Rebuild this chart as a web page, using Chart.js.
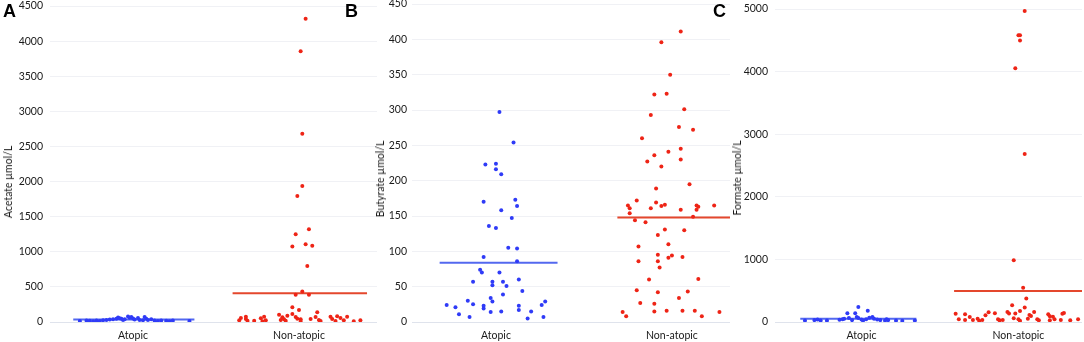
<!DOCTYPE html>
<html>
<head>
<meta charset="utf-8">
<script src="https://cdn.jsdelivr.net/npm/chart.js@4"></script>
<style>
  body { margin: 0; background: #fff; width: 1084px; height: 342px; overflow: hidden; position: relative; font-family: Lato, sans-serif; }
  canvas { position: absolute; top: 0; }
  .letter { position: absolute; top: 1px; font: bold 18px "Liberation Sans", Arial, sans-serif; color: #000; }
  .ytitle { position: absolute; font-size: 10.5px; color: #1a1a1a; transform: translate(-50%, -50%) rotate(-90deg); white-space: nowrap; }
</style>
</head>
<body>
<canvas id="chartA" width="380" height="342" style="left:0"></canvas>
<canvas id="chartB" width="372" height="342" style="left:360px"></canvas>
<canvas id="chartC" width="364" height="342" style="left:720px"></canvas>

<div class="letter" style="left:3px">A</div>
<div class="letter" style="left:345px">B</div>
<div class="letter" style="left:713px">C</div>
<div class="ytitle" style="left:8px;top:182px">Acetate µmol/L</div>
<div class="ytitle" style="left:380px;top:179px">Butyrate µmol/L</div>
<div class="ytitle" style="left:737px;top:178px">Formate µmol/L</div>

<script>
/* ================================
   Data
================================ */
const groups = ["Atopic", "Non-atopic"];

// A - acetate
const acetateTicks = [0, 500, 1000, 1500, 2000, 2500, 3000, 3500, 4000, 4500];
const acetateMeans = [35, 410];
const acetateAtopic = [15, 20, 18, 12, 22, 15, 25, 30, 35, 40, 45, 65, 55, 48, 30, 40, 80, 60, 72, 50,
  35, 58, 30, 25, 70, 45, 30, 38, 20, 15, 22, 18, 12, 20, 15];
const acetateAtopicJitter = [-0.32, -0.28, -0.26, -0.24, -0.22, -0.20, -0.18, -0.16, -0.14, -0.12, -0.10, -0.09,
  -0.08, -0.07, -0.06, -0.05, -0.03, -0.02, -0.01, 0.00, 0.01, 0.03, 0.04, 0.06, 0.07, 0.08, 0.09, 0.11,
  0.13, 0.15, 0.17, 0.20, 0.22, 0.24, 0.34];
const acetateNonAtopic = [4320, 3856, 2681, 1937, 1795, 1322, 1250, 1108, 1075, 1085, 796, 436, 388, 388,
  209, 171, 138, 104, 90, 114, 67, 38, 28, 19, 71, 47, 38, 14, 43, 71, 14, 28,
  24, 57, 76, 43, 19, 19, 52, 10, 76, 24,
  76, 43, 14, 81, 57, 24, 76, 10, 24];
const acetateNonAtopicJitter = [0.04, 0.01, 0.02, 0.02, -0.01, 0.06, -0.02, 0.04, -0.04, 0.08, 0.05, 0.02, -0.02, 0.06,
  -0.04, 0.00, 0.11, -0.12, -0.07, -0.04, -0.10, -0.09, -0.11, -0.08, -0.02, -0.01, 0.01, 0.01, 0.07, 0.10, 0.13, 0.12,
  -0.36, -0.35, -0.32, -0.32, -0.31, -0.27, -0.23, -0.22, -0.21, -0.20,
  0.19, 0.20, 0.22, 0.23, 0.25, 0.27, 0.29, 0.33, 0.37];

// B - butyrate
const butyrateTicks = [0, 50, 100, 150, 200, 250, 300, 350, 400, 450];
const butyrateMeans = [84, 148];
const butyrateAtopic = [297, 254, 223, 224, 216, 209, 170, 173, 164, 158, 147, 136, 133, 105, 104, 92, 86, 74,
  70, 70, 57, 57, 52, 57, 51, 60, 44, 39, 34, 30, 29, 29, 25, 24, 21, 23, 19, 23, 24, 17, 11, 14, 15, 15, 7, 5, 7];
const butyrateAtopicJitter = [0.02, 0.10, -0.06, 0.00, 0.00, 0.03, -0.07, 0.11, 0.12, 0.03, 0.09, -0.04, 0.00, 0.07,
  0.12, -0.07, 0.12, -0.09, -0.08, 0.02, -0.13, -0.02, -0.02, 0.04, 0.06, 0.13, 0.15, 0.04, -0.03, -0.16, -0.02,
  0.28, -0.13, -0.28, -0.23, -0.07, -0.07, 0.13, 0.26, 0.13, -0.21, -0.03, 0.03, 0.20, -0.15, 0.18, 0.27];
const butyrateNonAtopic = [411, 396, 350, 322, 323, 301, 293, 276, 272, 260, 245, 241, 236, 230, 227, 220, 195, 189,
  172, 169, 166, 165, 165, 165, 163, 164, 161, 161, 159, 159, 154, 149, 144, 141, 131, 130, 123, 110, 107,
  95, 94, 91, 92, 86, 86, 77, 60, 61, 45, 42, 43, 34, 27, 26, 15, 16, 16, 16, 14, 14, 8, 8];
const butyrateNonAtopicJitter = [0.05, -0.06, -0.01, -0.10, -0.03, 0.07, -0.12, 0.04, 0.12, -0.17, 0.05, -0.02, -0.10,
  0.05, -0.14, -0.06, 0.10, -0.09, -0.20, -0.09, -0.04, -0.25, 0.14, 0.24, 0.15, -0.06, -0.12, -0.24, 0.05, 0.14,
  -0.24, 0.12, -0.21, -0.15, -0.04, 0.07, -0.08, -0.02, -0.19, -0.08, 0.00, -0.02, 0.06, -0.19, -0.08, -0.07,
  -0.13, 0.15, -0.20, -0.08, 0.09, 0.04, -0.18, -0.10, -0.10, -0.03, 0.06, 0.13, -0.28, 0.27, -0.26, 0.17];

// C - formate
const formateTicks = [0, 1000, 2000, 3000, 4000, 5000];
const formateMeans = [50, 495];
const formateAtopic = [25, 30, 40, 25, 25, 35, 43, 53, 139, 64, 30, 139, 80, 240, 64, 40, 25, 43, 181, 69,
  80, 53, 40, 30, 25, 45, 30, 25, 20, 25];
const formateAtopicJitter = [-0.36, -0.30, -0.28, -0.26, -0.22, -0.14, -0.12, -0.11, -0.09, -0.08, -0.06, -0.04,
  -0.03, -0.02, -0.02, 0.00, 0.01, 0.03, 0.04, 0.05, 0.07, 0.08, 0.10, 0.12, 0.15, 0.16, 0.17, 0.22, 0.26, 0.34];
const formateNonAtopic = [4968, 4582, 4582, 4497, 4052, 2682, 985, 546,
  374, 267, 230, 155, 139, 160, 134, 134, 160, 176, 107, 96, 133, 123, 80, 43, 32, 32, 53, 21, 32, 43, 27, 32,
  59, 43, 21, 53, 112, 43, 27, 123, 91, 85, 43, 27, 32, 133, 144, 27, 43];
const formateNonAtopicJitter = [0.04, 0.00, 0.01, 0.01, -0.02, 0.04, -0.03, 0.03,
  0.05, -0.04, 0.04, -0.19, -0.15, -0.07, -0.06, -0.02, 0.10, 0.01, -0.21, 0.08, -0.40, -0.34, -0.31, -0.38,
  -0.34, -0.29, -0.26, -0.25, -0.23, -0.13, -0.12, -0.10, -0.03, 0.00, 0.01, 0.06, 0.07, 0.12, 0.13, 0.19,
  0.20, 0.22, 0.23, 0.20, 0.27, 0.28, 0.29, 0.33, 0.38];

/* ================================
   Style
================================ */
const BLUE = "#2f3bf7";
const RED = "#ee2416";
const BLUE_LINE = "#5368ef";
const RED_LINE = "#e4472d";
const FONT = { family: "Lato, sans-serif", size: 10.5, lineHeight: 1 };

/* ================================
   Panel builder
================================ */
function makePanel(id, p) {
  const pts = (vals, jit, g) => vals.map((v, i) => ({ x: g + jit[i], y: v }));
  const meanLine = (g, m, span) => [{ x: g + span[0], y: m }, { x: g + span[1], y: m }];
  const dot = { pointRadius: 2, pointHoverRadius: 2, borderWidth: 0, order: 1 };
  const line = { type: "line", borderWidth: 2, pointRadius: 0, fill: false, order: 2 };

  return new Chart(document.getElementById(id), {
    type: "scatter",
    data: {
      datasets: [
        { ...dot, data: pts(p.atopic, p.atopicJitter, 1), backgroundColor: BLUE },
        { ...dot, data: pts(p.non, p.nonJitter, 2), backgroundColor: RED },
        { ...line, data: meanLine(1, p.means[0], p.spanA), borderColor: BLUE_LINE },
        { ...line, data: meanLine(2, p.means[1], p.spanN), borderColor: RED_LINE }
      ]
    },
    options: {
      responsive: false,
      animation: false,
      layout: { padding: { top: p.top, right: p.right, left: 0, bottom: 0 } },
      plugins: { legend: { display: false }, tooltip: { enabled: false } },
      scales: {
        x: {
          type: "linear",
          min: p.xMin,
          max: p.xMax,
          afterBuildTicks: s => { s.ticks = [{ value: 1 }, { value: 2 }]; },
          ticks: { callback: v => groups[Math.round(v) - 1], padding: 8, color: "#1a1a1a", font: FONT, maxRotation: 0 },
          grid: { display: false, drawTicks: false },
          border: { display: false },
          afterFit: s => { s.height = 20; }
        },
        y: {
          min: 0,
          max: p.ticks[p.ticks.length - 1],
          afterBuildTicks: s => { s.ticks = p.ticks.map(v => ({ value: v })); },
          ticks: { callback: v => String(v), padding: p.tickPad, color: "#1a1a1a", font: FONT },
          grid: { color: c => (c.tick && c.tick.value === 0 ? "#dfe3ec" : "#f0f1f5"), drawTicks: false },
          border: { display: false },
          // fixed axis width, and let layout.padding alone set the top of the plot
          afterFit: s => { s.width = p.left; s.paddingTop = 0; s.paddingBottom = 0; }
        }
      }
    }
  });
}

/* ================================
   Init
================================ */
makePanel("chartA", {
  atopic: acetateAtopic, atopicJitter: acetateAtopicJitter,
  non: acetateNonAtopic, nonJitter: acetateNonAtopicJitter,
  means: acetateMeans, ticks: acetateTicks,
  spanA: [-0.36, 0.37], spanN: [-0.40, 0.41],
  xMin: 0.5, xMax: 2.47, left: 50, right: 3, top: 6, tickPad: 7
});

makePanel("chartB", {
  atopic: butyrateAtopic, atopicJitter: butyrateAtopicJitter,
  non: butyrateNonAtopic, nonJitter: butyrateNonAtopicJitter,
  means: butyrateMeans, ticks: butyrateTicks,
  spanA: [-0.32, 0.35], spanN: [-0.31, 0.33],
  xMin: 0.523, xMax: 2.33, left: 52, right: 2, top: 4, tickPad: 5
});

makePanel("chartC", {
  atopic: formateAtopic, atopicJitter: formateAtopicJitter,
  non: formateNonAtopic, nonJitter: formateNonAtopicJitter,
  means: formateMeans, ticks: formateTicks,
  spanA: [-0.39, 0.35], spanN: [-0.41, 0.6],
  xMin: 0.449, xMax: 2.405, left: 55, right: 0, top: 9, tickPad: 7
});
</script>
</body>
</html>
